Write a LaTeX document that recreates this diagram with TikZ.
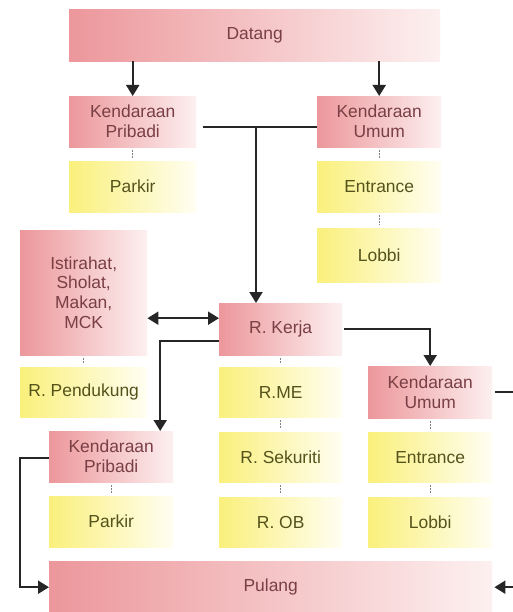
\documentclass[tikz,border=0pt]{standalone}
\usepackage{fontspec}
\setmainfont{Liberation Sans}
\usetikzlibrary{arrows.meta,calc}
\definecolor{pinkL}{HTML}{EC979B}
\definecolor{pinkM}{HTML}{F5C4C6}
\definecolor{pinkR}{HTML}{FDF0F0}
\definecolor{yelL}{HTML}{FAF07C}
\definecolor{yelM}{HTML}{FDF8C0}
\definecolor{yelR}{HTML}{FFFEF2}
\definecolor{pinktext}{HTML}{7A3F45}
\definecolor{yeltext}{HTML}{55531C}
\tikzset{
  box/.style={anchor=north west, inner sep=0pt, align=center, font=\fontsize{17.5}{20}\selectfont, shading=axis, shading angle=90},
  pinkbox/.style={box, left color=pinkL, middle color=pinkM, right color=pinkR, text=pinktext},
  yelbox/.style={box, left color=yelL, middle color=yelM, right color=yelR, text=yeltext},
  arr/.style={draw=black!85, line width=2bp, -{Triangle[length=11bp,width=13bp]}},
  arrb/.style={draw=black!85, line width=2bp, {Triangle[length=11bp,width=13bp]}-{Triangle[length=11bp,width=13bp]}},
  ln/.style={draw=black!85, line width=2bp},
  dots/.style={draw=black!50, line width=1.4pt, dash pattern=on 1.5bp off 1.5bp}
}
\begin{document}
\begin{tikzpicture}[x=1bp,y=-1bp]
\useasboundingbox (0,0) rectangle (513,612);
\fill[white] (0,0) rectangle (513,612);
% top
\node[pinkbox, minimum width=371bp, minimum height=52bp] (datang) at (69,9) {Datang};
\node[pinkbox, minimum width=127bp, minimum height=51bp] (kp1) at (69,96) {Kendaraan\\Pribadi};
\node[yelbox, minimum width=127bp, minimum height=51bp] (park1) at (69,161) {Parkir};
\node[pinkbox, minimum width=124bp, minimum height=51bp] (ku1) at (317,96) {Kendaraan\\Umum};
\node[yelbox, minimum width=124bp, minimum height=51bp] (ent1) at (317,161) {Entrance};
\node[yelbox, minimum width=124bp, minimum height=54bp] (lob1) at (317,228) {Lobbi};
% middle
\node[pinkbox, minimum width=127bp, minimum height=125bp] (ist) at (20,230) {Istirahat,\\Sholat,\\Makan,\\MCK};
\node[yelbox, minimum width=127bp, minimum height=50bp] (pend) at (20,367) {R. Pendukung};
\node[pinkbox, minimum width=123bp, minimum height=52bp] (kerja) at (219,303) {R. Kerja};
\node[yelbox, minimum width=123bp, minimum height=50bp] (rme) at (219,367) {R.ME};
\node[yelbox, minimum width=123bp, minimum height=50bp] (rsek) at (219,432) {R. Sekuriti};
\node[yelbox, minimum width=123bp, minimum height=50bp] (rob) at (219,497) {R. OB};
\node[pinkbox, minimum width=124bp, minimum height=52bp] (ku2) at (368,366) {Kendaraan\\Umum};
\node[yelbox, minimum width=124bp, minimum height=50bp] (ent2) at (368,432) {Entrance};
\node[yelbox, minimum width=124bp, minimum height=50bp] (lob2) at (368,497) {Lobbi};
\node[pinkbox, minimum width=124bp, minimum height=51bp] (kp2) at (49,431) {Kendaraan\\Pribadi};
\node[yelbox, minimum width=124bp, minimum height=51bp] (park2) at (49,496) {Parkir};
\node[pinkbox, minimum width=443bp, minimum height=52bp] (pulang) at (49,561) {Pulang};
% dotted links
\foreach \a/\b in {kp1/park1, ku1/ent1, ent1/lob1, ist/pend, kerja/rme, rme/rsek, rsek/rob, ku2/ent2, ent2/lob2, kp2/park2}
  \draw[dots] ([yshift=-3bp]\a.south) -- ([yshift=3bp]\b.north);
% arrows
\draw[arr] (kp1.north |- datang.south) -- (kp1.north);
\draw[arr] (ku1.north |- datang.south) -- (ku1.north);
\coordinate (j) at (256,126);
\draw[ln] ([xshift=7bp,yshift=-5bp]kp1.east) -- ([yshift=-5bp]ku1.west);
\draw[arr] (j) -- (j |- kerja.north);
\coordinate (a) at ([yshift=11bp]kerja.west);
\draw[arrb] (ist.east |- a) -- (a);
\draw[arr] ([xshift=2bp]kerja.east) -| (ku2.north);
\draw[arr] ([yshift=-12bp]kerja.west) -| ([xshift=49bp]kp2.north);
\draw[arr] ([yshift=-1bp]kp2.west) -- ++(-29bp,0) |- (pulang.west);
\draw[arr] ([xshift=3bp]ku2.east) -- ++(30bp,0) |- ([xshift=2bp]pulang.east);
\end{tikzpicture}
\end{document}
